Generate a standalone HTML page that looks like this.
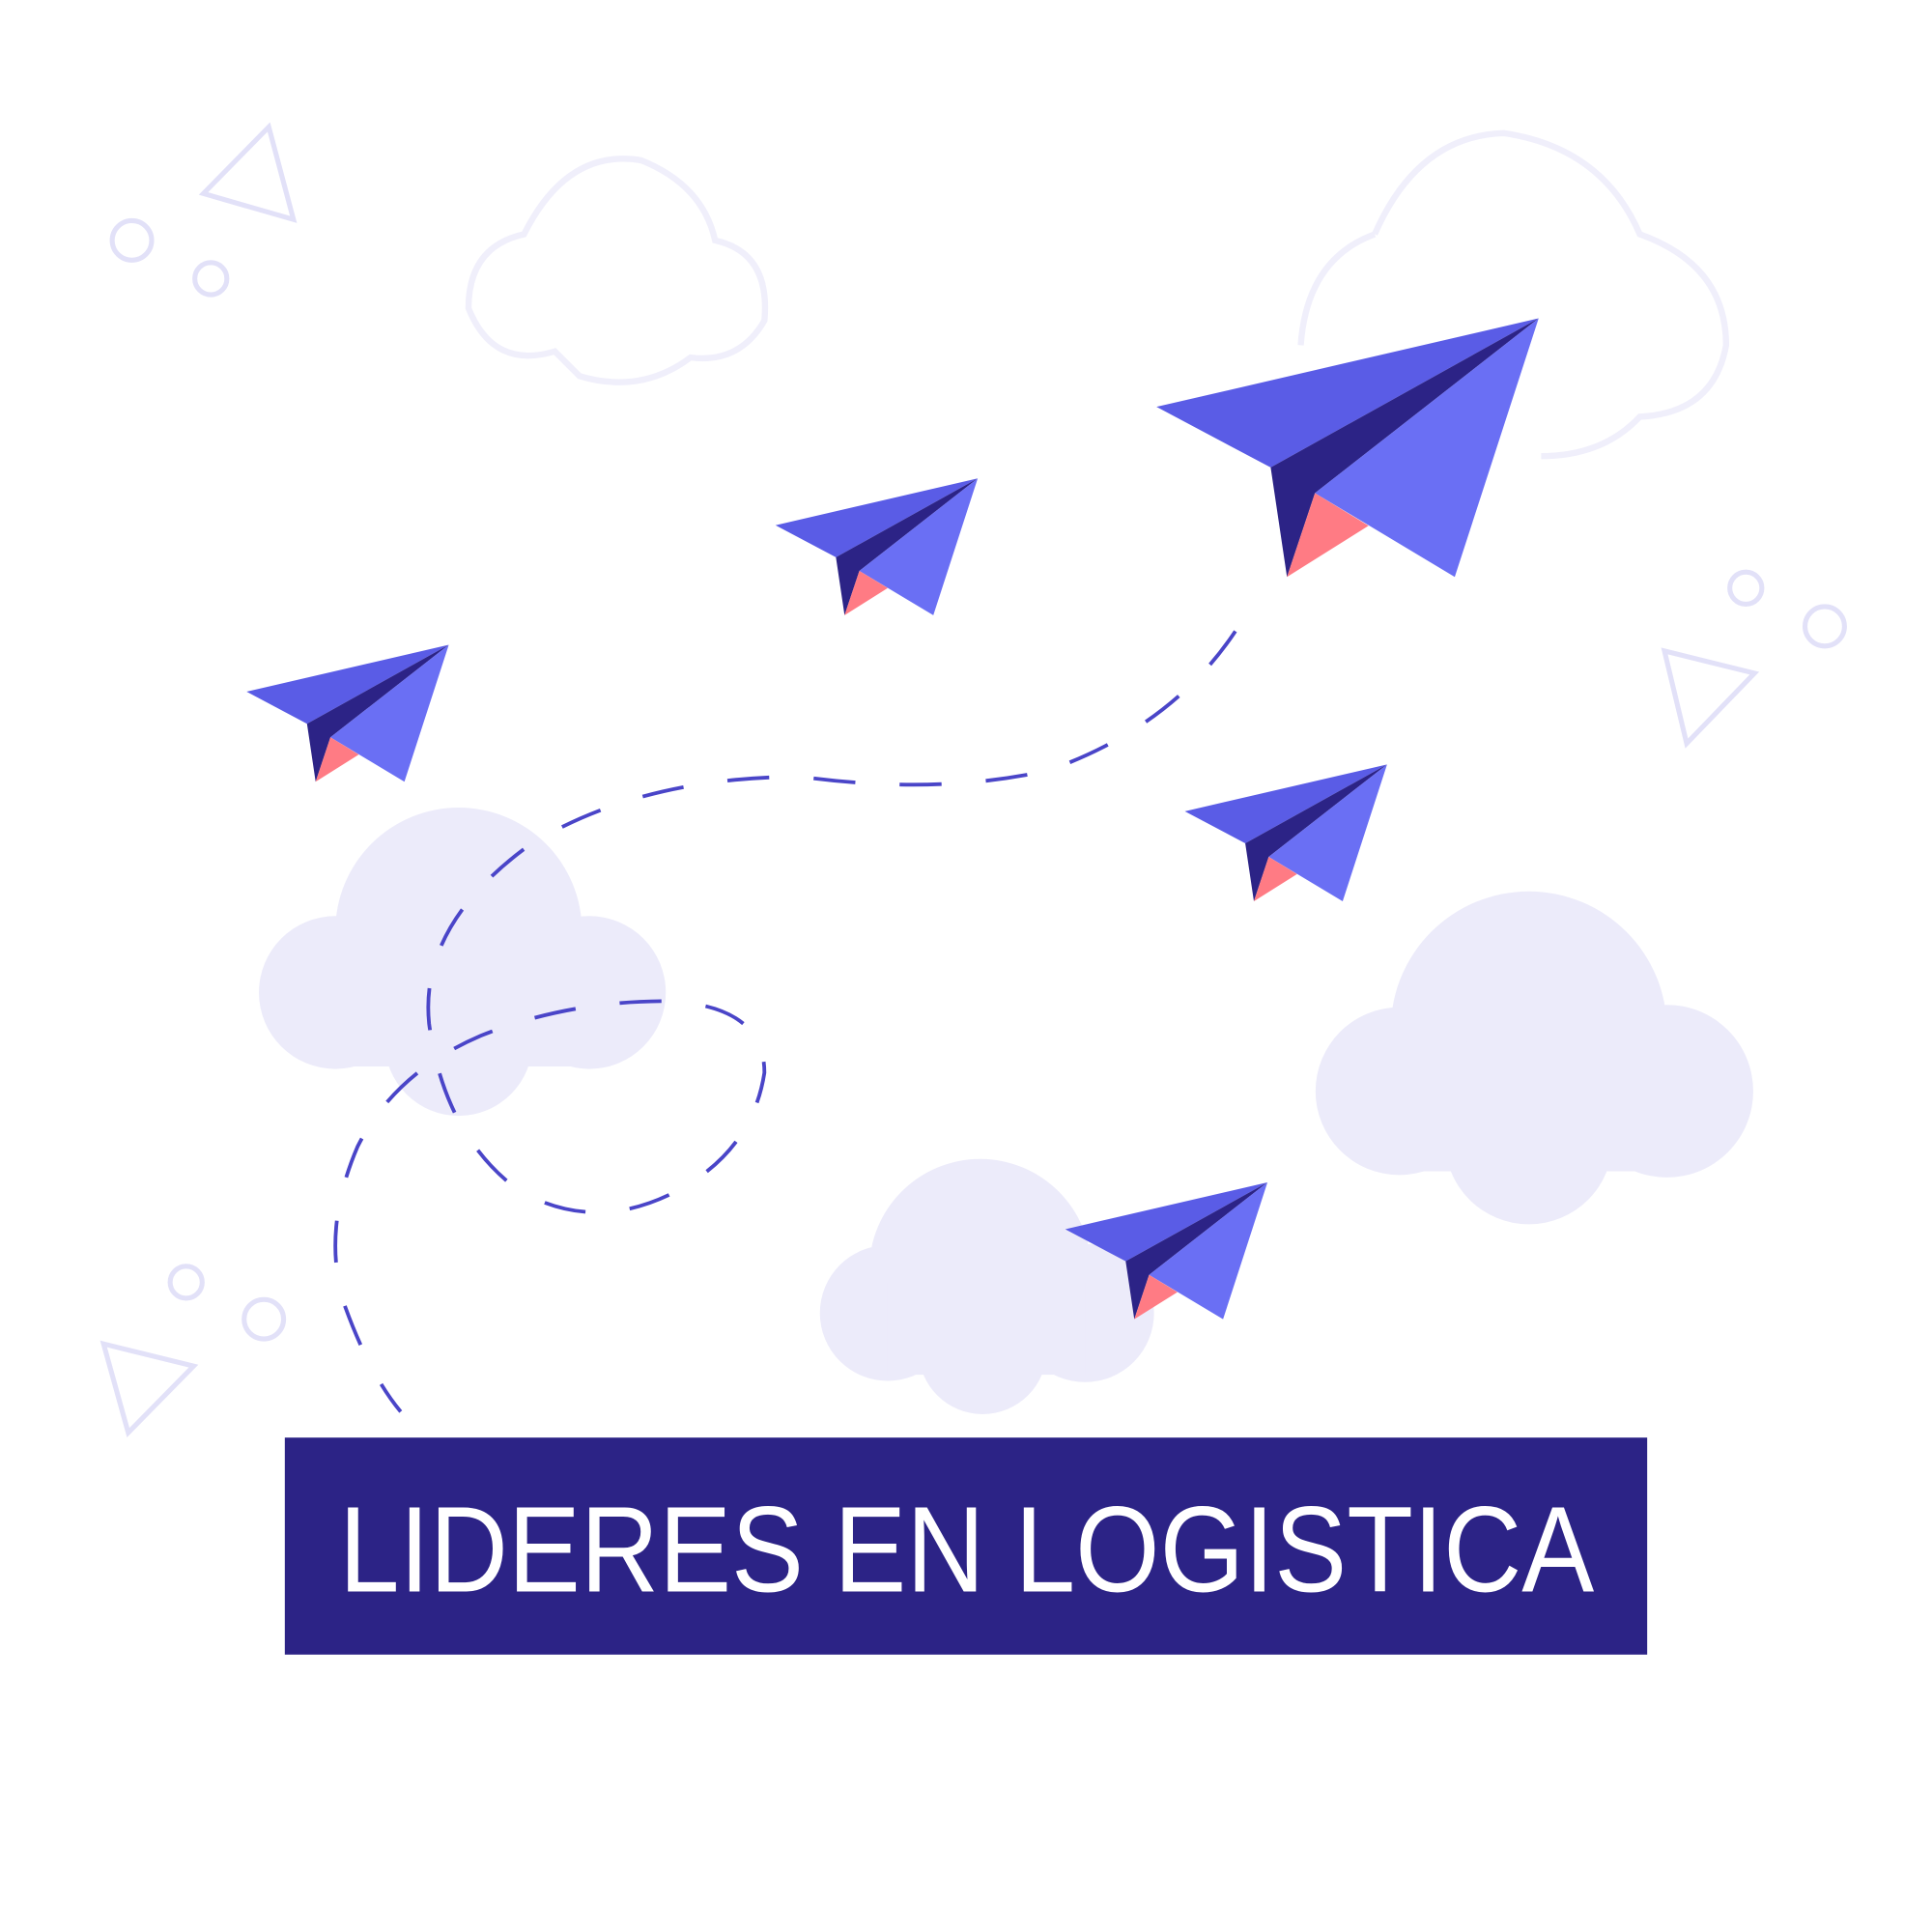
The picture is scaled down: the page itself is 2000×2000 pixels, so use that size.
<!DOCTYPE html>
<html><head><meta charset="utf-8"><style>
html,body{margin:0;padding:0;background:#fff;}
svg{display:block;}
</style></head><body>
<svg width="2000" height="2000" viewBox="0 0 1567 1567" xmlns="http://www.w3.org/2000/svg">
<defs>
<g id="plane">
<polygon points="200,561 364,523 249,587" fill="#5a5ce6"/>
<polygon points="249,587 364,523 268,598 256,634" fill="#2c2386"/>
<polygon points="364,523 328,634 268,598" fill="#6a6ff4"/>
<polygon points="268,598 291,612 256,634" fill="#ff7b84"/>
</g>
</defs>
<rect width="1567" height="1567" fill="#fff"/>
<g fill="none" stroke="#f0effb" stroke-width="5">
<path d="M425,190 Q460,120 520,130 Q570,150 580,195 Q625,205 620,260 Q600,295 560,290 Q520,320 470,305 Q455,290 450,285 Q400,300 380,250 Q380,200 425,190Z"/>
<path d="M1115,190 Q1150,110 1220,108 Q1300,120 1330,190 Q1400,215 1400,280 Q1390,335 1330,338 Q1300,370 1250,370 M1115,190 Q1060,210 1055,280"/>
</g>
<g fill="none" stroke="#e2e1f8" stroke-width="4">
<circle cx="107" cy="195" r="16"/><circle cx="171" cy="226" r="13"/>
<polygon points="218,103 238,178 165,157"/>
<circle cx="1416" cy="477" r="13"/><circle cx="1480" cy="508" r="16"/>
<polygon points="1350,528 1423,546 1368,603"/>
<circle cx="151" cy="1040" r="13"/><circle cx="214" cy="1070" r="16"/>
<polygon points="84,1090 157,1108 104,1162"/>
</g>
<g fill="#ecebfa">
<circle cx="372" cy="755" r="100"/><circle cx="272" cy="805" r="62"/><circle cx="478" cy="805" r="62"/><circle cx="372" cy="845" r="60"/><rect x="272" y="780" width="206" height="85"/>
<circle cx="1240" cy="835" r="112"/><circle cx="1135" cy="885" r="68"/><circle cx="1352" cy="885" r="70"/><circle cx="1240" cy="925" r="68"/><rect x="1135" y="860" width="217" height="90"/>
<circle cx="795" cy="1030" r="90"/><circle cx="720" cy="1065" r="55"/><circle cx="880" cy="1065" r="56"/><circle cx="797" cy="1095" r="52"/><rect x="720" y="1040" width="160" height="75"/>
</g>
<path d="M1002,512 Q950,590 850,625 Q760,645 650,630 Q520,630 430,685 Q340,750 348,830 Q360,920 420,965 Q480,1000 545,968 Q610,935 620,870 Q620,815 540,812 Q460,812 390,840 Q320,870 290,930 Q260,1000 280,1060 Q300,1115 325,1145" fill="none" stroke="#4a45c8" stroke-width="3" stroke-dasharray="34,36"/>
<use href="#plane"/>
<use href="#plane" transform="translate(429,-135)"/>
<use href="#plane" transform="translate(761,97)"/>
<use href="#plane" transform="translate(664,436)"/>
<use href="#plane" transform="translate(938,330) scale(1.89) translate(-200,-561)"/>
<rect x="231" y="1166" width="1105" height="176" fill="#2c2386"/>
<text x="784" y="1291" text-anchor="middle" font-family="Liberation Sans, sans-serif" font-size="99" fill="#fff" textLength="1018" lengthAdjust="spacingAndGlyphs">LIDERES EN LOGISTICA</text>
</svg>
</body></html>
